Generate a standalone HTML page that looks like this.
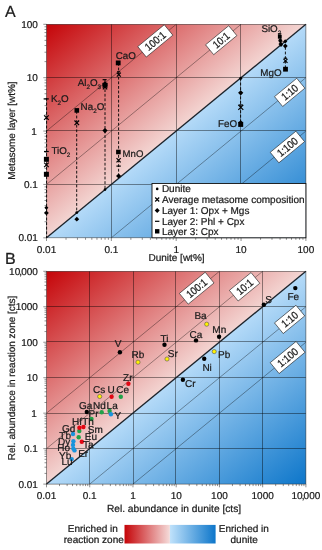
<!DOCTYPE html>
<html lang="en"><head><meta charset="utf-8"><title>Figure</title>
<style>html,body{margin:0;padding:0;background:#fff}svg{display:block}text{font-family:'Liberation Sans', Arial, sans-serif;fill:#1a1a1a;stroke:#1a1a1a;stroke-width:0.22px;text-rendering:geometricPrecision}</style>
</head><body>
<svg width="322" height="550" viewBox="0 0 322 550">
<defs>
<linearGradient id="rA" gradientUnits="userSpaceOnUse" x1="46.50" y1="24.30" x2="151.26" y2="151.58"><stop offset="0" stop-color="#c50408"/><stop offset="1" stop-color="#f3d5d2"/></linearGradient>
<linearGradient id="bA" gradientUnits="userSpaceOnUse" x1="201.14" y1="110.52" x2="305.90" y2="237.80"><stop offset="0" stop-color="#b4daf8"/><stop offset="1" stop-color="#0d76ca"/></linearGradient>
<linearGradient id="rB" gradientUnits="userSpaceOnUse" x1="46.50" y1="271.30" x2="150.85" y2="398.50"><stop offset="0" stop-color="#c50408"/><stop offset="1" stop-color="#f3d5d2"/></linearGradient>
<linearGradient id="bB" gradientUnits="userSpaceOnUse" x1="201.55" y1="356.90" x2="305.90" y2="484.10"><stop offset="0" stop-color="#b4daf8"/><stop offset="1" stop-color="#0d76ca"/></linearGradient>
<linearGradient id="lr" x1="0" x2="1" y1="0" y2="0"><stop offset="0" stop-color="#c50408"/><stop offset="1" stop-color="#f5dcda"/></linearGradient>
<linearGradient id="lb" x1="0" x2="1" y1="0" y2="0"><stop offset="0" stop-color="#c0e2fb"/><stop offset="1" stop-color="#0d76ca"/></linearGradient>
</defs>
<rect width="322" height="550" fill="#fff"/>
<polygon points="46.5,24.3 305.9,24.3 46.5,237.8" fill="url(#rA)"/>
<polygon points="305.9,24.3 305.9,237.8 46.5,237.8" fill="url(#bA)"/>
<path d="M111.5,24.3V237.8M176.5,24.3V237.8M240.5,24.3V237.8M46.5,77.5H305.9M46.5,130.5H305.9M46.5,184.5H305.9" stroke="#000" stroke-width="1" fill="none" opacity="0.42"/>
<path d="M46.5,184.43L241.05,24.3M111.35,237.8L305.9,77.67M46.5,131.05L176.20,24.3M176.20,237.8L305.9,131.05" stroke="#000" stroke-width="0.8" fill="none" opacity="0.45"/>
<path d="M46.5,237.8L305.9,24.3" stroke="#1c232b" stroke-width="1.35" fill="none"/>
<path d="M46.50,237.8v3.2M46.5,237.80h-3.2M66.02,237.8v2.0M46.5,221.73h-2.0M77.44,237.8v2.0M46.5,212.33h-2.0M85.54,237.8v2.0M46.5,205.67h-2.0M91.83,237.8v2.0M46.5,200.49h-2.0M96.96,237.8v2.0M46.5,196.27h-2.0M101.30,237.8v2.0M46.5,192.69h-2.0M105.07,237.8v2.0M46.5,189.60h-2.0M108.38,237.8v2.0M46.5,186.87h-2.0M111.35,237.8v3.2M46.5,184.43h-3.2M130.87,237.8v2.0M46.5,168.36h-2.0M142.29,237.8v2.0M46.5,158.96h-2.0M150.39,237.8v2.0M46.5,152.29h-2.0M156.68,237.8v2.0M46.5,147.12h-2.0M161.81,237.8v2.0M46.5,142.89h-2.0M166.15,237.8v2.0M46.5,139.32h-2.0M169.92,237.8v2.0M46.5,136.22h-2.0M173.23,237.8v2.0M46.5,133.49h-2.0M176.20,237.8v3.2M46.5,131.05h-3.2M195.72,237.8v2.0M46.5,114.98h-2.0M207.14,237.8v2.0M46.5,105.58h-2.0M215.24,237.8v2.0M46.5,98.92h-2.0M221.53,237.8v2.0M46.5,93.74h-2.0M226.66,237.8v2.0M46.5,89.52h-2.0M231.00,237.8v2.0M46.5,85.94h-2.0M234.77,237.8v2.0M46.5,82.85h-2.0M238.08,237.8v2.0M46.5,80.12h-2.0M241.05,237.8v3.2M46.5,77.68h-3.2M260.57,237.8v2.0M46.5,61.61h-2.0M271.99,237.8v2.0M46.5,52.21h-2.0M280.09,237.8v2.0M46.5,45.54h-2.0M286.38,237.8v2.0M46.5,40.37h-2.0M291.51,237.8v2.0M46.5,36.14h-2.0M295.85,237.8v2.0M46.5,32.57h-2.0M299.62,237.8v2.0M46.5,29.47h-2.0M302.93,237.8v2.0M46.5,26.74h-2.0M305.90,237.8v3.2M46.5,24.30h-3.2" stroke="#444" stroke-width="0.6" fill="none"/>
<rect x="46.5" y="24.3" width="259.40" height="213.50" stroke="#222" stroke-width="0.6" fill="none" opacity="0.8"/>
<g transform="translate(155.30,40.90) rotate(-39.46)"><rect x="-17.20" y="-6.75" width="34.40" height="13.50" fill="#fff" stroke="#222" stroke-width="0.6"/><text transform="scale(0.94,1.07)" x="0" y="3.50" font-size="10" text-anchor="middle">100:1</text></g>
<g transform="translate(221.20,40.20) rotate(-39.46)"><rect x="-15.00" y="-6.40" width="30.00" height="12.80" fill="#fff" stroke="#222" stroke-width="0.6"/><text transform="scale(0.94,1.07)" x="0" y="3.50" font-size="10" text-anchor="middle">10:1</text></g>
<g transform="translate(289.70,92.40) rotate(-39.46)"><rect x="-14.40" y="-6.40" width="28.80" height="12.80" fill="#fff" stroke="#222" stroke-width="0.6"/><text transform="scale(0.94,1.07)" x="0" y="3.50" font-size="10" text-anchor="middle">1:10</text></g>
<g transform="translate(287.40,147.00) rotate(-39.46)"><rect x="-16.65" y="-6.80" width="33.30" height="13.60" fill="#fff" stroke="#222" stroke-width="0.6"/><text transform="scale(0.94,1.07)" x="0" y="3.50" font-size="10" text-anchor="middle">1:100</text></g>
<path d="M46.60,98.00V238.00" stroke="#000" stroke-width="0.9" stroke-dasharray="2.8,1.8" fill="none"/>
<path d="M76.70,111.00V213.00" stroke="#000" stroke-width="0.9" stroke-dasharray="2.8,1.8" fill="none"/>
<path d="M105.00,80.00V190.00" stroke="#000" stroke-width="0.9" stroke-dasharray="2.8,1.8" fill="none"/>
<path d="M118.60,63.00V178.00" stroke="#000" stroke-width="0.9" stroke-dasharray="2.8,1.8" fill="none"/>
<path d="M240.60,78.00V124.00" stroke="#000" stroke-width="0.9" stroke-dasharray="2.8,1.8" fill="none"/>
<path d="M285.40,47.00V68.00" stroke="#000" stroke-width="0.9" stroke-dasharray="2.8,1.8" fill="none"/>
<path d="M43.60,98.90h5.2" stroke="#000" stroke-width="1.2" fill="none"/>
<path d="M44.10,115.30l4.6,4.6M44.10,119.90l4.6,-4.6" stroke="#000" stroke-width="1.2" fill="none"/>
<path d="M44.00,151.50h4.8" stroke="#000" stroke-width="1.2" fill="none"/>
<rect x="43.90" y="156.80" width="5.0" height="5.0" fill="#000"/>
<path d="M44.10,162.60l4.6,4.6M44.10,167.20l4.6,-4.6" stroke="#000" stroke-width="1.2" fill="none"/>
<rect x="43.90" y="171.80" width="5.0" height="5.0" fill="#000"/>
<path d="M46.40,205.80l2.0,2.0l-2.0,2.0l-2.0,-2.0z" fill="#000"/>
<path d="M46.40,210.50l2.4,2.4l-2.4,2.4l-2.4,-2.4z" fill="#000"/>
<rect x="74.50" y="108.10" width="4.6" height="4.6" fill="#000"/>
<path d="M74.50,120.50l4.6,4.6M74.50,125.10l4.6,-4.6" stroke="#000" stroke-width="1.2" fill="none"/>
<circle cx="76.80" cy="212.60" r="1.4" fill="#000"/>
<path d="M76.80,216.80l2.4,2.4l-2.4,2.4l-2.4,-2.4z" fill="#000"/>
<path d="M102.60,79.70h4.0" stroke="#000" stroke-width="1.2" fill="none"/>
<path d="M105.00,81.20l2.8,2.8l-2.8,2.8l-2.8,-2.8z" fill="#000"/>
<rect x="102.50" y="82.80" width="5.0" height="5.0" fill="#000"/>
<path d="M102.80,85.00l4.4,4.4M102.80,89.40l4.4,-4.4" stroke="#000" stroke-width="1.2" fill="none"/>
<path d="M105.00,128.00l2.6,2.6l-2.6,2.6l-2.6,-2.6z" fill="#000"/>
<circle cx="105.00" cy="189.60" r="1.3" fill="#000"/>
<rect x="115.80" y="60.50" width="4.8" height="4.8" fill="#000"/>
<path d="M117.00,71.80h3.2" stroke="#000" stroke-width="1.2" fill="none"/>
<path d="M116.80,72.60l4.0,4.0M116.80,76.60l4.0,-4.0" stroke="#000" stroke-width="1.2" fill="none"/>
<rect x="116.10" y="149.70" width="4.6" height="4.6" fill="#000"/>
<path d="M116.50,158.10l4.2,4.2M116.50,162.30l4.2,-4.2" stroke="#000" stroke-width="1.2" fill="none"/>
<path d="M116.40,166.10h4.4" stroke="#000" stroke-width="1.2" fill="none"/>
<path d="M118.60,173.40l2.6,2.6l-2.6,2.6l-2.6,-2.6z" fill="#000"/>
<circle cx="240.70" cy="78.30" r="1.5" fill="#000"/>
<path d="M240.70,90.20l2.6,2.6l-2.6,2.6l-2.6,-2.6z" fill="#000"/>
<path d="M238.80,105.00h4.0" stroke="#000" stroke-width="1.2" fill="none"/>
<path d="M238.30,104.90l5.0,5.0M238.30,109.90l5.0,-5.0" stroke="#000" stroke-width="1.2" fill="none"/>
<path d="M240.70,120.20l2.4,2.4l-2.4,2.4l-2.4,-2.4z" fill="#000"/>
<rect x="238.20" y="121.90" width="5.0" height="5.0" fill="#000"/>
<path d="M277.90,33.80h3.4" stroke="#000" stroke-width="1.2" fill="none"/>
<rect x="277.90" y="34.90" width="3.8" height="3.8" fill="#000"/>
<path d="M280.30,38.10l2.2,2.2l-2.2,2.2l-2.2,-2.2z" fill="#000"/>
<path d="M278.90,41.10l3.4,3.4M278.90,44.50l3.4,-3.4" stroke="#000" stroke-width="1.2" fill="none"/>
<path d="M281.00,42.70l2.1,2.1l-2.1,2.1l-2.1,-2.1z" fill="#000"/>
<path d="M285.20,39.30l2.1,2.1l-2.1,2.1l-2.1,-2.1z" fill="#000"/>
<path d="M285.30,43.60l2.4,2.4l-2.4,2.4l-2.4,-2.4z" fill="#000"/>
<path d="M283.80,58.20h3.2" stroke="#000" stroke-width="1.2" fill="none"/>
<path d="M283.50,58.90l4.0,4.0M283.50,62.90l4.0,-4.0" stroke="#000" stroke-width="1.2" fill="none"/>
<rect x="283.10" y="66.80" width="4.8" height="4.8" fill="#000"/>
<text x="50.90" y="101.70" font-size="9.8"><tspan dy="0">K</tspan><tspan font-size="6.3" dy="3.0">2</tspan><tspan dy="-3.0">O</tspan></text>
<text x="80.60" y="110.00" font-size="9.8"><tspan dy="0">Na</tspan><tspan font-size="6.3" dy="3.0">2</tspan><tspan dy="-3.0">O</tspan></text>
<text x="77.70" y="85.80" font-size="9.8"><tspan dy="0">Al</tspan><tspan font-size="6.3" dy="3.0">2</tspan><tspan dy="-3.0">O</tspan><tspan font-size="6.3" dy="3.0">3</tspan></text>
<text x="115.80" y="59.00" font-size="9.8"><tspan dy="0">CaO</tspan></text>
<text x="51.40" y="153.50" font-size="9.8"><tspan dy="0">TiO</tspan><tspan font-size="6.3" dy="3.0">2</tspan></text>
<text x="122.60" y="156.50" font-size="9.6"><tspan dy="0">MnO</tspan></text>
<text x="218.00" y="127.20" font-size="9.8"><tspan dy="0">FeO</tspan></text>
<text x="261.40" y="31.60" font-size="9.8"><tspan dy="0">SiO</tspan><tspan font-size="6.3" dy="3.0">2</tspan></text>
<text x="260.30" y="75.50" font-size="9.8"><tspan dy="0">MgO</tspan></text>
<rect x="152.0" y="183.5" width="153.90" height="54.30" fill="#fff" stroke="#111" stroke-width="0.9"/>
<circle cx="157.20" cy="188.90" r="1.3" fill="#000"/>
<path d="M155.20,197.50l4.0,4.0M155.20,201.50l4.0,-4.0" stroke="#000" stroke-width="1.2" fill="none"/>
<path d="M157.20,208.10l2.5,2.5l-2.5,2.5l-2.5,-2.5z" fill="#000"/>
<path d="M155.00,221.30h4.4" stroke="#000" stroke-width="1.2" fill="none"/>
<rect x="155.00" y="229.10" width="4.4" height="4.4" fill="#000"/>
<text x="161.90" y="192.30" font-size="10" text-anchor="start">Dunite</text>
<text x="161.90" y="202.80" font-size="10" text-anchor="start">Average metasome composition</text>
<text x="161.90" y="213.90" font-size="10" text-anchor="start">Layer 1: Opx + Mgs</text>
<text x="161.90" y="224.50" font-size="10" text-anchor="start">Layer 2: Phl + Cpx</text>
<text x="161.90" y="234.90" font-size="10" text-anchor="start">Layer 3: Cpx</text>
<text x="46.50" y="252.90" font-size="10" text-anchor="middle">0.01</text>
<text x="37.90" y="241.30" font-size="10" text-anchor="end">0.01</text>
<text x="111.35" y="252.90" font-size="10" text-anchor="middle">0.1</text>
<text x="37.90" y="187.93" font-size="10" text-anchor="end">0.1</text>
<text x="176.20" y="252.90" font-size="10" text-anchor="middle">1</text>
<text x="36.70" y="134.55" font-size="10" text-anchor="end">1</text>
<text x="241.05" y="252.90" font-size="10" text-anchor="middle">10</text>
<text x="37.90" y="81.18" font-size="10" text-anchor="end">10</text>
<text x="305.90" y="252.90" font-size="10" text-anchor="middle">100</text>
<text x="37.90" y="27.80" font-size="10" text-anchor="end">100</text>
<text x="176.50" y="261.20" font-size="10" text-anchor="middle">Dunite [wt%]</text>
<text transform="translate(15.0,130.6) rotate(-90)" font-size="10" text-anchor="middle">Metasome layer [wt%]</text>
<text x="5.00" y="17.00" font-size="16" text-anchor="start">A</text>
<text x="5.00" y="263.70" font-size="16" text-anchor="start">B</text>
<polygon points="46.5,271.3 305.9,271.3 46.5,484.1" fill="url(#rB)"/>
<polygon points="305.9,271.3 305.9,484.1 46.5,484.1" fill="url(#bB)"/>
<path d="M89.5,271.3V484.1M133.5,271.3V484.1M175.5,271.3V484.1M219.5,271.3V484.1M262.5,271.3V484.1M46.5,306.5H305.9M46.5,341.5H305.9M46.5,377.5H305.9M46.5,413.5H305.9M46.5,448.5H305.9" stroke="#000" stroke-width="1" fill="none" opacity="0.42"/>
<path d="M46.5,448.63L262.67,271.3M89.73,484.1L305.9,306.77M46.5,413.17L219.43,271.3M132.97,484.1L305.9,342.23" stroke="#000" stroke-width="0.8" fill="none" opacity="0.45"/>
<path d="M46.5,484.1L305.9,271.3" stroke="#1c232b" stroke-width="1.35" fill="none"/>
<path d="M46.50,484.1v3.2M46.5,484.10h-3.2M59.51,484.1v2.0M46.5,473.42h-2.0M67.13,484.1v2.0M46.5,467.18h-2.0M72.53,484.1v2.0M46.5,462.75h-2.0M76.72,484.1v2.0M46.5,459.31h-2.0M80.14,484.1v2.0M46.5,456.50h-2.0M83.04,484.1v2.0M46.5,454.13h-2.0M85.54,484.1v2.0M46.5,452.07h-2.0M87.76,484.1v2.0M46.5,450.26h-2.0M89.73,484.1v3.2M46.5,448.63h-3.2M102.75,484.1v2.0M46.5,437.96h-2.0M110.36,484.1v2.0M46.5,431.71h-2.0M115.76,484.1v2.0M46.5,427.28h-2.0M119.95,484.1v2.0M46.5,423.84h-2.0M123.38,484.1v2.0M46.5,421.03h-2.0M126.27,484.1v2.0M46.5,418.66h-2.0M128.78,484.1v2.0M46.5,416.60h-2.0M130.99,484.1v2.0M46.5,414.79h-2.0M132.97,484.1v3.2M46.5,413.17h-3.2M145.98,484.1v2.0M46.5,402.49h-2.0M153.59,484.1v2.0M46.5,396.24h-2.0M159.00,484.1v2.0M46.5,391.81h-2.0M163.19,484.1v2.0M46.5,388.38h-2.0M166.61,484.1v2.0M46.5,385.57h-2.0M169.50,484.1v2.0M46.5,383.19h-2.0M172.01,484.1v2.0M46.5,381.14h-2.0M174.22,484.1v2.0M46.5,379.32h-2.0M176.20,484.1v3.2M46.5,377.70h-3.2M189.21,484.1v2.0M46.5,367.02h-2.0M196.83,484.1v2.0M46.5,360.78h-2.0M202.23,484.1v2.0M46.5,356.35h-2.0M206.42,484.1v2.0M46.5,352.91h-2.0M209.84,484.1v2.0M46.5,350.10h-2.0M212.74,484.1v2.0M46.5,347.73h-2.0M215.24,484.1v2.0M46.5,345.67h-2.0M217.46,484.1v2.0M46.5,343.86h-2.0M219.43,484.1v3.2M46.5,342.23h-3.2M232.45,484.1v2.0M46.5,331.56h-2.0M240.06,484.1v2.0M46.5,325.31h-2.0M245.46,484.1v2.0M46.5,320.88h-2.0M249.65,484.1v2.0M46.5,317.44h-2.0M253.08,484.1v2.0M46.5,314.63h-2.0M255.97,484.1v2.0M46.5,312.26h-2.0M258.48,484.1v2.0M46.5,310.20h-2.0M260.69,484.1v2.0M46.5,308.39h-2.0M262.67,484.1v3.2M46.5,306.77h-3.2M275.68,484.1v2.0M46.5,296.09h-2.0M283.29,484.1v2.0M46.5,289.84h-2.0M288.70,484.1v2.0M46.5,285.41h-2.0M292.89,484.1v2.0M46.5,281.98h-2.0M296.31,484.1v2.0M46.5,279.17h-2.0M299.20,484.1v2.0M46.5,276.79h-2.0M301.71,484.1v2.0M46.5,274.74h-2.0M303.92,484.1v2.0M46.5,272.92h-2.0M305.90,484.1v3.2M46.5,271.30h-3.2" stroke="#444" stroke-width="0.6" fill="none"/>
<rect x="46.5" y="271.3" width="259.40" height="212.80" stroke="#222" stroke-width="0.6" fill="none" opacity="0.8"/>
<g transform="translate(196.70,288.20) rotate(-39.36)"><rect x="-16.70" y="-6.95" width="33.40" height="13.90" fill="#fff" stroke="#222" stroke-width="0.6"/><text transform="scale(0.94,1.07)" x="0" y="3.50" font-size="10" text-anchor="middle">100:1</text></g>
<g transform="translate(244.60,286.80) rotate(-39.36)"><rect x="-14.00" y="-6.90" width="28.00" height="13.80" fill="#fff" stroke="#222" stroke-width="0.6"/><text transform="scale(0.94,1.07)" x="0" y="3.50" font-size="10" text-anchor="middle">10:1</text></g>
<g transform="translate(289.60,319.40) rotate(-39.36)"><rect x="-13.90" y="-6.90" width="27.80" height="13.80" fill="#fff" stroke="#222" stroke-width="0.6"/><text transform="scale(0.94,1.07)" x="0" y="3.50" font-size="10" text-anchor="middle">1:10</text></g>
<g transform="translate(287.60,357.50) rotate(-39.36)"><rect x="-16.75" y="-7.05" width="33.50" height="14.10" fill="#fff" stroke="#222" stroke-width="0.6"/><text transform="scale(0.94,1.07)" x="0" y="3.50" font-size="10" text-anchor="middle">1:100</text></g>
<circle cx="119.90" cy="352.30" r="2.2" fill="#000"/>
<circle cx="164.50" cy="344.80" r="2.2" fill="#000"/>
<circle cx="138.00" cy="362.20" r="2.1" fill="#fff200" stroke="#555" stroke-width="0.6"/>
<circle cx="167.00" cy="359.00" r="2.1" fill="#fff200" stroke="#555" stroke-width="0.6"/>
<circle cx="128.40" cy="383.80" r="2.2" fill="#e30613"/>
<circle cx="206.70" cy="324.20" r="2.1" fill="#fff200" stroke="#555" stroke-width="0.6"/>
<circle cx="196.00" cy="340.40" r="2.2" fill="#000"/>
<circle cx="219.10" cy="336.70" r="2.2" fill="#000"/>
<circle cx="214.20" cy="351.60" r="2.1" fill="#fff200" stroke="#555" stroke-width="0.6"/>
<circle cx="204.20" cy="358.70" r="2.2" fill="#000"/>
<circle cx="182.90" cy="379.70" r="2.2" fill="#000"/>
<circle cx="263.80" cy="304.70" r="2.2" fill="#000"/>
<circle cx="295.30" cy="288.10" r="2.2" fill="#000"/>
<circle cx="99.70" cy="396.50" r="2.1" fill="#fff200" stroke="#555" stroke-width="0.6"/>
<circle cx="111.60" cy="396.80" r="2.2" fill="#e30613"/>
<circle cx="120.80" cy="396.80" r="2.2" fill="#22a24a"/>
<circle cx="86.80" cy="412.00" r="2.2" fill="#000"/>
<circle cx="101.70" cy="412.20" r="2.2" fill="#22a24a"/>
<circle cx="109.60" cy="411.00" r="2.2" fill="#22a24a"/>
<circle cx="110.90" cy="414.20" r="2.2" fill="#1a94dc"/>
<circle cx="91.50" cy="419.00" r="2.2" fill="#22a24a"/>
<circle cx="79.30" cy="431.00" r="2.2" fill="#22a24a"/>
<circle cx="79.40" cy="427.80" r="2.2" fill="#e30613"/>
<circle cx="83.40" cy="427.00" r="2.2" fill="#e30613"/>
<circle cx="73.00" cy="434.00" r="2.2" fill="#1a94dc"/>
<circle cx="78.70" cy="437.20" r="2.2" fill="#22a24a"/>
<circle cx="73.40" cy="441.20" r="2.2" fill="#1a94dc"/>
<circle cx="81.80" cy="441.70" r="2.2" fill="#e30613"/>
<circle cx="73.00" cy="444.90" r="2.2" fill="#1a94dc"/>
<circle cx="73.30" cy="448.60" r="2.2" fill="#1a94dc"/>
<circle cx="74.50" cy="450.40" r="2.2" fill="#1a94dc"/>
<circle cx="71.70" cy="459.10" r="2.2" fill="#1a94dc"/>
<text x="118.20" y="347.30" font-size="10" text-anchor="middle">V</text>
<text x="160.40" y="341.50" font-size="10" text-anchor="start">Ti</text>
<text x="131.60" y="357.70" font-size="10" text-anchor="start">Rb</text>
<text x="167.80" y="356.50" font-size="10" text-anchor="start">Sr</text>
<text x="123.10" y="380.70" font-size="10" text-anchor="start">Zr</text>
<text x="194.40" y="319.00" font-size="10" text-anchor="start">Ba</text>
<text x="189.60" y="337.60" font-size="10" text-anchor="start">Ca</text>
<text x="212.30" y="333.20" font-size="10" text-anchor="start">Mn</text>
<text x="218.00" y="357.70" font-size="10" text-anchor="start">Pb</text>
<text x="202.40" y="371.00" font-size="10" text-anchor="start">Ni</text>
<text x="185.00" y="387.10" font-size="10" text-anchor="start">Cr</text>
<text x="265.20" y="302.70" font-size="10" text-anchor="start">S</text>
<text x="287.50" y="300.20" font-size="10" text-anchor="start">Fe</text>
<text x="93.10" y="393.30" font-size="10" text-anchor="start">Cs</text>
<text x="107.50" y="393.30" font-size="10" text-anchor="start">U</text>
<text x="116.20" y="393.30" font-size="10" text-anchor="start">Ce</text>
<text x="79.00" y="409.00" font-size="10" text-anchor="start">Ga</text>
<text x="93.10" y="409.00" font-size="10" text-anchor="start">Nd</text>
<text x="106.60" y="409.00" font-size="10" text-anchor="start">La</text>
<text x="114.60" y="418.90" font-size="10" text-anchor="start">Y</text>
<text x="88.50" y="416.90" font-size="10" text-anchor="start">Pr</text>
<text x="72.00" y="425.30" font-size="10" text-anchor="start">Hf</text>
<text x="82.20" y="425.30" font-size="10" text-anchor="start">Th</text>
<text x="62.00" y="432.30" font-size="10" text-anchor="start">Gd</text>
<text x="87.80" y="433.30" font-size="10" text-anchor="start">Sm</text>
<text x="59.30" y="438.80" font-size="10" text-anchor="start">Tb</text>
<text x="84.80" y="440.10" font-size="10" text-anchor="start">Eu</text>
<text x="58.10" y="444.90" font-size="10" text-anchor="start">Dy</text>
<text x="83.10" y="448.10" font-size="10" text-anchor="start">Ta</text>
<text x="57.20" y="451.30" font-size="10" text-anchor="start">Ho</text>
<text x="78.20" y="456.50" font-size="10" text-anchor="start">Er</text>
<text x="59.10" y="458.50" font-size="10" text-anchor="start">Yb</text>
<text x="61.40" y="465.10" font-size="10" text-anchor="start">Lu</text>
<text x="46.50" y="499.40" font-size="10" text-anchor="middle">0.01</text>
<text x="37.90" y="487.60" font-size="10" text-anchor="end">0.01</text>
<text x="89.73" y="499.40" font-size="10" text-anchor="middle">0.1</text>
<text x="37.90" y="452.13" font-size="10" text-anchor="end">0.1</text>
<text x="132.97" y="499.40" font-size="10" text-anchor="middle">1</text>
<text x="36.70" y="416.67" font-size="10" text-anchor="end">1</text>
<text x="176.20" y="499.40" font-size="10" text-anchor="middle">10</text>
<text x="37.90" y="381.20" font-size="10" text-anchor="end">10</text>
<text x="219.43" y="499.40" font-size="10" text-anchor="middle">100</text>
<text x="37.90" y="345.73" font-size="10" text-anchor="end">100</text>
<text x="262.67" y="499.40" font-size="10" text-anchor="middle">1000</text>
<text x="37.90" y="310.27" font-size="10" text-anchor="end">1000</text>
<text x="305.90" y="499.40" font-size="10" text-anchor="middle">10<tspan dx="-0.9">,</tspan><tspan dx="-0.9">000</tspan></text>
<text x="37.90" y="274.80" font-size="10" text-anchor="end">10<tspan dx="-0.9">,</tspan><tspan dx="-0.9">000</tspan></text>
<text x="174.00" y="511.80" font-size="10.2" text-anchor="middle">Rel. abundance in dunite [cts]</text>
<text transform="translate(15.2,377.9) rotate(-90)" font-size="10" text-anchor="middle">Rel. abundance in reaction zone [cts]</text>
<rect x="124.5" y="524.9" width="45.4" height="18.6" fill="url(#lr)"/>
<rect x="169.9" y="524.9" width="45.7" height="18.6" fill="url(#lb)"/>
<text x="92.80" y="531.80" font-size="10" text-anchor="middle">Enriched in</text>
<text x="93.80" y="542.80" font-size="10" text-anchor="middle">reaction zone</text>
<text x="243.80" y="532.20" font-size="10" text-anchor="middle">Enriched in</text>
<text x="244.20" y="542.80" font-size="10" text-anchor="middle">dunite</text>
</svg>
</body></html>
